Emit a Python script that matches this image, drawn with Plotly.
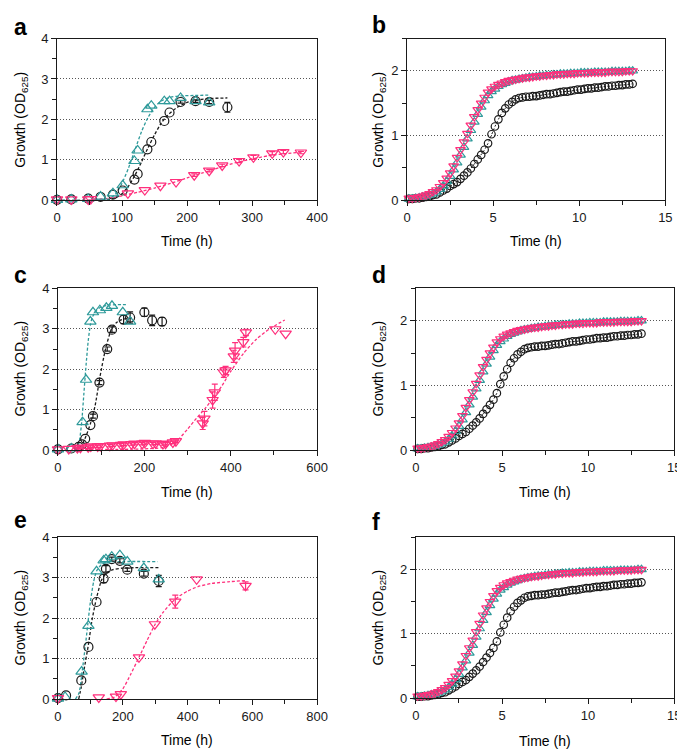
import plotly.graph_objects as go

W, H = 685, 749
BLACK = "#1a1a1a"
TEAL = "#2e9a9a"
PINK = "#ff2f7c"
FONT = "Arial, Liberation Sans, Helvetica, sans-serif"

# ---------------- Panel a ----------------
a_time_black = [0, 22, 48, 67, 86, 101, 119, 124, 139, 145, 165, 173, 190, 213, 234, 262]
a_black = [0.01, 0.02, 0.04, 0.08, 0.14, 0.24, 0.51, 0.65, 1.26, 1.44, 1.96, 2.17, 2.43, 2.45, 2.43, 2.30]
a_black_err = [0, 0, 0, 0, 0, 0, 0, 0, 0, 0, 0, 0, 0.03, 0.03, 0.04, 0.12]
a_time_teal = [0, 22, 48, 67, 86, 101, 119, 124, 139, 145, 165, 173, 190, 213, 234]
a_teal = [0.01, 0.02, 0.03, 0.09, 0.17, 0.37, 0.97, 1.23, 2.25, 2.34, 2.45, 2.45, 2.53, 2.45, 2.42]
a_time_pink = [0, 22, 48, 52, 109, 135, 159, 183, 211, 234, 254, 280, 302, 331, 348, 375]
a_pink = [0.02, 0.02, 0.02, 0.03, 0.17, 0.25, 0.36, 0.45, 0.62, 0.73, 0.86, 0.97, 1.06, 1.16, 1.19, 1.18]
a_pink_err = [0, 0, 0, 0, 0, 0, 0, 0, 0.03, 0.03, 0.03, 0.04, 0.05, 0.04, 0.04, 0.03]
a_fit_teal_t = [0, 60, 80, 90, 100, 110, 120, 130, 140, 150, 160, 175, 190, 210, 235]
a_fit_teal = [0.0, 0.0, 0.03, 0.15, 0.42, 0.80, 1.25, 1.70, 2.05, 2.30, 2.45, 2.55, 2.58, 2.59, 2.60]
a_fit_black_t = [0, 70, 90, 100, 110, 120, 130, 140, 150, 160, 170, 185, 200, 220, 240, 262]
a_fit_black = [0.0, 0.0, 0.06, 0.16, 0.35, 0.62, 0.95, 1.30, 1.62, 1.90, 2.10, 2.30, 2.42, 2.49, 2.52, 2.53]
a_fit_pink_t = [50, 80, 100, 125, 150, 175, 200, 225, 250, 275, 300, 325, 350, 375]
a_fit_pink = [0.0, 0.05, 0.11, 0.20, 0.30, 0.42, 0.55, 0.68, 0.81, 0.93, 1.02, 1.10, 1.15, 1.19]

# ---------------- Panels b, d, f (plate reader) ----------------
plate_time = [round(0.1 + 0.2 * i, 1) for i in range(66)]
plate_black = [0.02, 0.02, 0.03, 0.03, 0.04, 0.05, 0.06, 0.08, 0.09, 0.12, 0.15,
               0.18, 0.22, 0.25, 0.28, 0.33, 0.38, 0.43, 0.49, 0.56, 0.63, 0.70,
               0.78, 0.88, 1.02, 1.14, 1.25, 1.35, 1.42, 1.48, 1.52, 1.56, 1.58,
               1.59, 1.60, 1.60, 1.61, 1.61, 1.62, 1.63, 1.64, 1.64, 1.65, 1.66,
               1.67, 1.68, 1.68, 1.69, 1.70, 1.71, 1.71, 1.72, 1.73, 1.73, 1.74,
               1.74, 1.75, 1.76, 1.76, 1.77, 1.77, 1.78, 1.78, 1.79, 1.79, 1.80]
plate_teal = [0.02, 0.02, 0.03, 0.04, 0.05, 0.06, 0.08, 0.10, 0.13, 0.17, 0.22,
              0.29, 0.37, 0.47, 0.58, 0.70, 0.82, 0.95, 1.08, 1.21, 1.33, 1.44,
              1.54, 1.62, 1.68, 1.72, 1.76, 1.79, 1.81, 1.83, 1.85, 1.86, 1.87,
              1.88, 1.89, 1.90, 1.90, 1.91, 1.92, 1.92, 1.93, 1.93, 1.94, 1.94,
              1.95, 1.95, 1.95, 1.96, 1.96, 1.96, 1.97, 1.97, 1.97, 1.97, 1.98,
              1.98, 1.98, 1.98, 1.98, 1.99, 1.99, 1.99, 1.99, 1.99, 2.00, 2.00]
plate_pink = [0.03, 0.03, 0.04, 0.05, 0.06, 0.08, 0.10, 0.13, 0.16, 0.21, 0.27,
              0.34, 0.42, 0.53, 0.66, 0.78, 0.90, 1.03, 1.16, 1.29, 1.40, 1.50,
              1.59, 1.67, 1.72, 1.76, 1.79, 1.81, 1.83, 1.85, 1.86, 1.87, 1.88,
              1.89, 1.90, 1.90, 1.91, 1.92, 1.92, 1.93, 1.93, 1.94, 1.94, 1.95,
              1.95, 1.95, 1.96, 1.96, 1.96, 1.97, 1.97, 1.97, 1.97, 1.98, 1.98,
              1.98, 1.98, 1.98, 1.99, 1.99, 1.99, 1.99, 1.99, 2.00, 2.00, 2.00]

# ---------------- Panel c ----------------
c_time_teal = [0, 31, 57, 65, 75, 81, 97, 112, 125, 150, 167]
c_teal = [0.02, 0.04, 0.69, 1.74, 3.18, 3.41, 3.46, 3.52, 3.57, 3.41, 3.18]
c_time_black = [0, 31, 48, 56, 63, 75, 81, 96, 114, 125, 152, 167, 200, 218, 241]
c_black = [0.02, 0.04, 0.08, 0.14, 0.28, 0.62, 0.84, 1.67, 2.50, 2.98, 3.23, 3.28, 3.41, 3.21, 3.18]
c_black_err = [0, 0, 0, 0, 0, 0, 0.05, 0.05, 0.05, 0.07, 0.10, 0.14, 0.10, 0.13, 0.10]
c_time_pink = [0, 25, 45, 52, 70, 76, 92, 98, 120, 126, 146, 152, 170, 177, 195, 201,
               220, 226, 243, 249, 266, 273, 335, 339, 358, 363, 384, 388, 407, 410,
               429, 435, 503, 527]
c_pink = [0.02, 0.03, 0.05, 0.06, 0.07, 0.09, 0.09, 0.10, 0.11, 0.12, 0.13, 0.14, 0.15, 0.16,
          0.16, 0.18, 0.16, 0.17, 0.15, 0.16, 0.19, 0.22, 0.66, 0.78, 1.24, 1.43, 1.92, 1.97,
          2.32, 2.46, 2.67, 2.91, 2.99, 2.88]
c_pink_err = [0, 0, 0.02, 0.02, 0.03, 0.03, 0.03, 0.03, 0.03, 0.03, 0.03, 0.03, 0.03, 0.03,
              0.03, 0.03, 0.03, 0.03, 0.03, 0.03, 0.03, 0.03, 0.15, 0.18, 0.20, 0.20, 0.12,
              0.10, 0.15, 0.20, 0.12, 0.08, 0, 0]
c_fit_teal_t = [44, 50, 55, 60, 65, 70, 75, 80, 90, 100, 120, 162]
c_fit_teal = [0.0, 0.25, 0.70, 1.40, 2.10, 2.70, 3.10, 3.30, 3.47, 3.54, 3.59, 3.60]
c_fit_black_t = [41, 55, 65, 75, 86, 97, 110, 124, 135, 146, 170]
c_fit_black = [0.0, 0.12, 0.35, 0.65, 1.10, 1.80, 2.50, 3.00, 3.15, 3.22, 3.28]
c_fit_pink_t = [40, 100, 150, 200, 240, 260, 280, 300, 320, 340, 360, 380, 400, 430, 460, 490, 525]
c_fit_pink = [0.02, 0.02, 0.02, 0.03, 0.06, 0.13, 0.28, 0.52, 0.78, 1.02, 1.30, 1.60, 1.95,
              2.40, 2.75, 3.00, 3.22]

# ---------------- Panel e ----------------
e_time_teal = [0, 22, 73, 94, 119, 141, 148, 166, 191, 214, 265, 311]
e_teal = [0.01, 0.05, 0.68, 1.81, 3.16, 3.43, 3.46, 3.52, 3.56, 3.40, 3.24, 2.96]
e_time_black = [0, 25, 72, 94, 119, 141, 148, 166, 191, 214, 265, 311]
e_black = [0.02, 0.09, 0.46, 1.29, 2.40, 2.98, 3.22, 3.46, 3.42, 3.20, 3.10, 2.92]
e_black_err = [0, 0, 0, 0, 0, 0.10, 0.08, 0.05, 0.05, 0.04, 0.06, 0.14]
e_time_pink = [0, 126, 179, 194, 250, 299, 362, 428, 579]
e_pink = [0.02, 0.04, 0.06, 0.12, 1.03, 1.85, 2.41, 2.96, 2.80]
e_pink_err = [0, 0, 0, 0, 0, 0, 0.16, 0, 0.10]
e_fit_teal_t = [54, 65, 75, 85, 92, 100, 110, 120, 135, 150, 200, 308]
e_fit_teal = [0.0, 0.15, 0.70, 1.35, 1.85, 2.40, 2.90, 3.18, 3.33, 3.38, 3.40, 3.40]
e_fit_black_t = [64, 72, 80, 94, 105, 119, 135, 150, 170, 200, 310]
e_fit_black = [0.0, 0.30, 0.70, 1.35, 1.95, 2.50, 2.95, 3.12, 3.20, 3.24, 3.25]
e_fit_pink_t = [150, 175, 200, 225, 250, 275, 300, 325, 350, 375, 400, 432, 475, 525, 577]
e_fit_pink = [0.0, 0.05, 0.25, 0.62, 1.03, 1.45, 1.85, 2.15, 2.38, 2.55, 2.67, 2.78, 2.86, 2.90, 2.93]

# ---------------- Layout geometry (pixels) ----------------
panels = {
    "a": dict(x=(46, 312), y=(24, 189), xr=[0, 400], dt=100, mdt=50, yr=[0, 4]),
    "b": dict(x=(404, 668), y=(24, 189), xr=[0, 15], dt=5, mdt=2.5, yr=[0, 2.5]),
    "c": dict(x=(47, 312), y=(279, 444), xr=[0, 600], dt=200, mdt=100, yr=[0, 4]),
    "d": dict(x=(413, 677), y=(279, 444), xr=[0, 15], dt=5, mdt=2.5, yr=[0, 2.5]),
    "e": dict(x=(47, 312), y=(533, 698), xr=[0, 800], dt=200, mdt=100, yr=[0, 4]),
    "f": dict(x=(413, 677), y=(533, 697), xr=[0, 15], dt=5, mdt=2.5, yr=[0, 2.5]),
}
order = ["a", "b", "c", "d", "e", "f"]

fig = go.Figure()
layout = {}
for i, key in enumerate(order, start=1):
    p = panels[key]
    sfx = "" if i == 1 else str(i)
    xd = [p["x"][0] / W, p["x"][1] / W]
    yd = [1 - p["y"][1] / H, 1 - p["y"][0] / H]
    layout["xaxis" + sfx] = dict(
        domain=xd, range=p["xr"], anchor="y" + sfx, tick0=0, dtick=p["dt"],
        ticks="outside", ticklen=5, tickwidth=1, tickcolor=BLACK,
        showline=True, linecolor=BLACK, linewidth=1, mirror=True,
        zeroline=False, showgrid=False,
        tickfont=dict(size=13, color=BLACK, family=FONT),
        minor=dict(dtick=p["mdt"], tick0=0, ticks="outside", ticklen=4, tickcolor=BLACK, showgrid=False),
    )
    layout["yaxis" + sfx] = dict(
        domain=yd, range=p["yr"], anchor="x" + sfx, tick0=0, dtick=1,
        ticks="outside", ticklen=5, tickwidth=1, tickcolor=BLACK,
        showline=True, linecolor=BLACK, linewidth=1, mirror=True,
        zeroline=False, showgrid=True, gridcolor="#555555", griddash="1px,2px", gridwidth=1,
        tickfont=dict(size=13, color=BLACK, family=FONT),
        minor=dict(dtick=0.5, tick0=0, ticks="outside", ticklen=4, tickcolor=BLACK, showgrid=False),
    )


def axes_of(key):
    i = order.index(key) + 1
    sfx = "" if i == 1 else str(i)
    return "x" + sfx, "y" + sfx


def fit(key, t, v, color):
    xa, ya = axes_of(key)
    fig.add_trace(go.Scatter(x=t, y=v, mode="lines", xaxis=xa, yaxis=ya,
                             line=dict(color=color, width=1.3, dash="3px,2px", shape="spline", smoothing=0.6),
                             showlegend=False, hoverinfo="skip", cliponaxis=False))


def pts(key, t, v, color, symbol, size, err=None, line=False):
    xa, ya = axes_of(key)
    if err is not None:
        # error bars only where a deviation is shown (draw separately, skipping zero-length ones)
        et = [ti for ti, e in zip(t, err) if e > 0]
        ev = [vi for vi, e in zip(v, err) if e > 0]
        ee = [e for e in err if e > 0]
        fig.add_trace(go.Scatter(
            x=et, y=ev, mode="markers", xaxis=xa, yaxis=ya,
            marker=dict(size=1, color="rgba(0,0,0,0)"),
            error_y=dict(type="data", array=ee, visible=True, color=color, thickness=1.2, width=3),
            showlegend=False, hoverinfo="skip", cliponaxis=False))
    fig.add_trace(go.Scatter(
        x=t, y=v, mode="lines+markers" if line else "markers", xaxis=xa, yaxis=ya,
        marker=dict(symbol=symbol, size=size, color="rgba(255,255,255,0)", line=dict(color=color, width=1.2)),
        line=dict(color=color, width=1, dash="2px,2px"),
        showlegend=False, cliponaxis=False))


# a
fit("a", a_fit_black_t, a_fit_black, BLACK)
fit("a", a_fit_teal_t, a_fit_teal, TEAL)
fit("a", a_fit_pink_t, a_fit_pink, PINK)
pts("a", a_time_black, a_black, BLACK, "circle", 9, a_black_err)
pts("a", a_time_teal, a_teal, TEAL, "triangle-up", 10)
pts("a", a_time_pink, a_pink, PINK, "triangle-down", 10, a_pink_err)

# c
fit("c", c_fit_black_t, c_fit_black, BLACK)
fit("c", c_fit_teal_t, c_fit_teal, TEAL)
fit("c", c_fit_pink_t, c_fit_pink, PINK)
pts("c", c_time_black, c_black, BLACK, "circle", 9, c_black_err)
pts("c", c_time_teal, c_teal, TEAL, "triangle-up", 10)
pts("c", c_time_pink, c_pink, PINK, "triangle-down", 10, c_pink_err)

# e
fit("e", e_fit_black_t, e_fit_black, BLACK)
fit("e", e_fit_teal_t, e_fit_teal, TEAL)
fit("e", e_fit_pink_t, e_fit_pink, PINK)
pts("e", e_time_black, e_black, BLACK, "circle", 9, e_black_err)
pts("e", e_time_teal, e_teal, TEAL, "triangle-up", 10)
pts("e", e_time_pink, e_pink, PINK, "triangle-down", 10, e_pink_err)

# b, d, f
for key in ["b", "d", "f"]:
    pts(key, plate_time, plate_black, BLACK, "circle", 7.5, line=True)
    pts(key, plate_time, plate_teal, TEAL, "triangle-up", 8.5, line=True)
    pts(key, plate_time, plate_pink, PINK, "triangle-down", 8.5, line=True)

# ---------------- Text annotations ----------------
ann = []


def txt(x, y, s, size, angle=0, bold=False, xanchor="center"):
    ann.append(dict(x=x / W, y=1 - y / H, xref="paper", yref="paper", text=("<b>%s</b>" % s) if bold else s,
                    showarrow=False, textangle=angle, xanchor=xanchor, yanchor="middle",
                    font=dict(size=size, color="black", family=FONT)))


ytitle = "Growth (OD<sub>625</sub>)"
for key, xl, yc in [("a", 9, 107), ("b", 375, 107), ("c", 9, 361), ("d", 375, 361), ("e", 9, 615), ("f", 375, 615)]:
    txt(xl, yc, ytitle, 14, angle=-90)
for xc, yc in [(179, 231), (536, 231), (179, 487), (545, 487), (179, 740), (545, 741)]:
    txt(xc, yc, "Time (h)", 14)
for s, x, y in [("a", 0, 12), ("b", 366, 10), ("c", 0, 265), ("d", 366, 265), ("e", 0, 515), ("f", 366, 517)]:
    txt(x, y, s, 23, bold=True, xanchor="left")

fig.update_layout(
    width=W, height=H, margin=dict(l=0, r=0, t=0, b=0),
    paper_bgcolor="white", plot_bgcolor="white",
    font=dict(family=FONT, color="black"),
    annotations=ann, showlegend=False, **layout,
)

fig.write_html("out.html")
